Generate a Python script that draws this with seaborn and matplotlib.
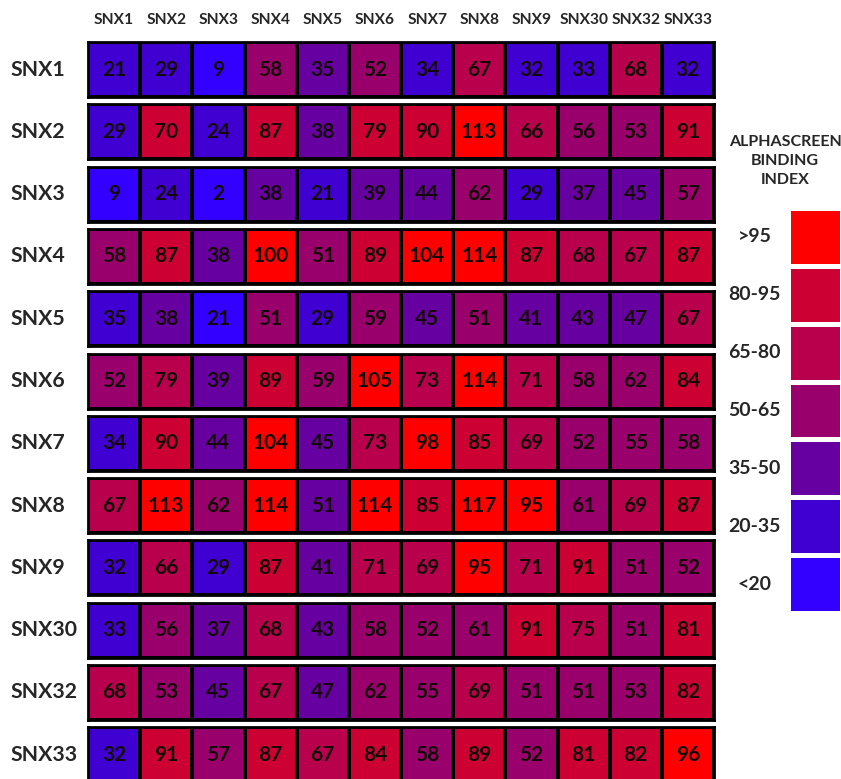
import numpy as np
import matplotlib
matplotlib.use("Agg")
import matplotlib.pyplot as plt
import seaborn as sns
from matplotlib.colors import ListedColormap

sns.set_style("white")
plt.rcParams['font.family'] = ['Lato', 'DejaVu Sans']

names = ["SNX1", "SNX2", "SNX3", "SNX4", "SNX5", "SNX6",
         "SNX7", "SNX8", "SNX9", "SNX30", "SNX32", "SNX33"]

# binding index, one list per row (row = names[i], columns = names)
snx1 = [21, 29, 9, 58, 35, 52, 34, 67, 32, 33, 68, 32]
snx2 = [29, 70, 24, 87, 38, 79, 90, 113, 66, 56, 53, 91]
snx3 = [9, 24, 2, 38, 21, 39, 44, 62, 29, 37, 45, 57]
snx4 = [58, 87, 38, 100, 51, 89, 104, 114, 87, 68, 67, 87]
snx5 = [35, 38, 21, 51, 29, 59, 45, 51, 41, 43, 47, 67]
snx6 = [52, 79, 39, 89, 59, 105, 73, 114, 71, 58, 62, 84]
snx7 = [34, 90, 44, 104, 45, 73, 98, 85, 69, 52, 55, 58]
snx8 = [67, 113, 62, 114, 51, 114, 85, 117, 95, 61, 69, 87]
snx9 = [32, 66, 29, 87, 41, 71, 69, 95, 71, 91, 51, 52]
snx30 = [33, 56, 37, 68, 43, 58, 52, 61, 91, 75, 51, 81]
snx32 = [68, 53, 45, 67, 47, 62, 55, 69, 51, 51, 53, 82]
snx33 = [32, 91, 57, 87, 67, 84, 58, 89, 52, 81, 82, 96]

bin_edges = [20, 35, 50, 65, 80, 95]
legend_labels = [">95", "80-95", "65-80", "50-65", "35-50", "20-35", "<20"]
bin_colors = ["#3300FF", "#4000D2", "#6600A0", "#99006B", "#B8004C", "#CC0033", "#FF0000"]

# cells whose colour in the figure does not follow their printed number
overrides = {(1, 1): 5, (1, 5): 5, (4, 0): 1, (4, 2): 0, (7, 4): 2}

values = np.array([snx1, snx2, snx3, snx4, snx5, snx6,
                   snx7, snx8, snx9, snx30, snx32, snx33])
classes = np.digitize(values, bin_edges)
for (r, c), k in overrides.items():
    classes[r, c] = k

cmap = ListedColormap(bin_colors)

W, H = 841, 779
fig = plt.figure(figsize=(W / 100, H / 100), dpi=100)

for i, name in enumerate(names):
    top = 42 + 62.3 * i
    ax = fig.add_axes([88 / W, 1 - (top + 55) / H, 626 / W, 55 / H])
    sns.heatmap(classes[i:i + 1], annot=values[i:i + 1], fmt="d", cmap=cmap,
                vmin=-0.5, vmax=6.5, cbar=False, linewidths=1.5, linecolor="black",
                annot_kws=dict(color="#140808", fontsize=15, fontweight="bold"),
                xticklabels=names if i == 0 else False, yticklabels=[name], ax=ax)
    for s in ax.spines.values():
        s.set_visible(True)
        s.set_linewidth(2)
        s.set_color("black")
    ax.set_yticklabels([name], rotation=0, fontsize=15.3, fontweight="bold", ha="left")
    ax.tick_params(axis="y", length=0, pad=56)
    if i == 0:
        ax.xaxis.tick_top()
        ax.set_xticklabels(names, rotation=0, fontsize=11.2, fontweight="bold")
        ax.tick_params(axis="x", length=0, pad=11)

# legend as a one-column heatmap
lax = fig.add_axes([788 / W, 1 - 613 / H, 54 / W, 405 / H])
legend_idx = np.arange(6, -1, -1).reshape(-1, 1)
sns.heatmap(legend_idx, cmap=cmap, vmin=-0.5, vmax=6.5, cbar=False,
            linewidths=3.5, linecolor="white", xticklabels=False,
            yticklabels=legend_labels, ax=lax)
lax.set_yticklabels(legend_labels, rotation=0, fontsize=14, fontweight="bold", ha="center")
lax.tick_params(axis="y", length=0, pad=24)

fig.text(785 / W, 1 - 161 / H, "ALPHASCREEN\nBINDING\nINDEX", ha="center", va="center",
         fontsize=11.5, fontweight="bold", linespacing=1.45)

fig.savefig("out.png", dpi=100)
